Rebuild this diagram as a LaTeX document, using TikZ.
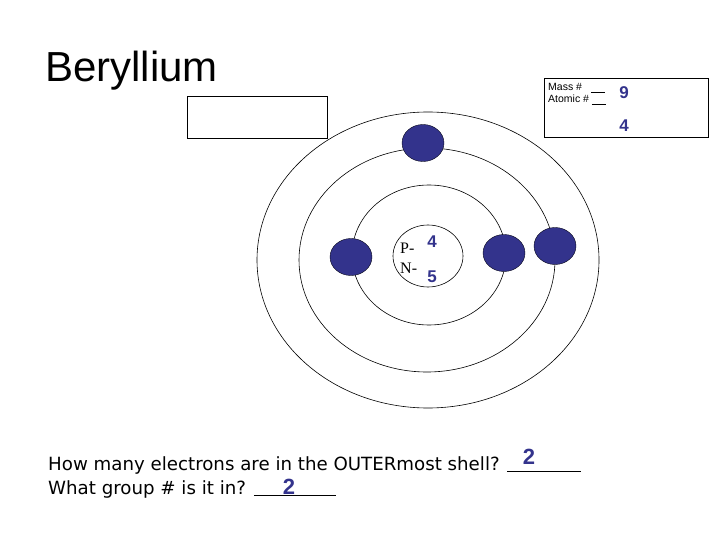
\documentclass[tikz,border=0pt]{standalone}
\usepackage{fontspec}
\setmainfont{Liberation Sans}
\newfontfamily\dejavu{DejaVu Sans}
\newfontfamily\serifface{Liberation Serif}
\definecolor{ink}{RGB}{51,51,140}
\tikzset{
  shell/.style={draw=black, line width=0.6pt},
  electron/.style={ellipse, draw=black!80!ink, fill=ink, minimum width=42pt, minimum height=37pt, inner sep=0pt},
  answer/.style={text=ink, font=\bfseries\fontsize{17}{17}\selectfont, inner sep=0pt},
  question/.style={anchor=base west, font=\dejavu\fontsize{18.2}{18.2}\selectfont, inner sep=0pt}
}
\usetikzlibrary{shapes.geometric}
\begin{document}
\begin{tikzpicture}[x=1pt,y=-1pt]
  \useasboundingbox (0,0) rectangle (720,540);
  % title and boxes
  \node[anchor=base west, font=\fontsize{42}{42}\selectfont, inner sep=0pt] (title) at (45,82) {Beryllium};
  \draw[shell] (187,96) rectangle (327,138);
  \draw[shell] (544,78) rectangle (708,137);
  \node[anchor=base west, font=\fontsize{10.5}{10.5}\selectfont, inner sep=0pt] (mass) at (548,91) {Mass \# \ \ \underline{\hspace{14pt}}};
  \node[anchor=base west, font=\fontsize{10.5}{10.5}\selectfont, inner sep=0pt] (atomic) at (548,103) {Atomic \# \underline{\hspace{14pt}}};
  \node[answer] (massval) at (624,93) {9};
  \node[answer] (atomicval) at (624,126) {4};
  % shells
  \draw[shell] (428,260) ellipse (171 and 148);
  \draw[shell] (427,260) ellipse (128 and 112);
  \draw[shell] (429,255) ellipse (77 and 70);
  \draw[shell] (428,256) ellipse (35 and 31);
  % nucleus
  \node[anchor=base west, font=\serifface\fontsize{16}{16}\selectfont, inner sep=0pt] (plabel) at (400,253) {P-};
  \node[anchor=base west, font=\serifface\fontsize{16}{16}\selectfont, inner sep=0pt] (nlabel) at (400,273) {N-};
  \node[answer] (pval) at (432,242) {4};
  \node[answer] (nval) at (432,277) {5};
  % electrons
  \node[electron] (e1) at (423,143) {};
  \node[electron] (e2) at (351,257) {};
  \node[electron] (e3) at (504,253) {};
  \node[electron] (e4) at (555,246) {};
  % questions
  \node[question] (q1) at (48,470) {How many electrons are in the OUTERmost shell? \underline{\hspace{74pt}}};
  \node[question] (q2) at (48,494) {What group \# is it in? \underline{\hspace{82pt}}};
  \node[answer, font=\bfseries\fontsize{22}{22}\selectfont] (a1) at (529,457) {2};
  \node[answer, font=\bfseries\fontsize{22}{22}\selectfont] (a2) at (289,487) {2};
\end{tikzpicture}
\end{document}
